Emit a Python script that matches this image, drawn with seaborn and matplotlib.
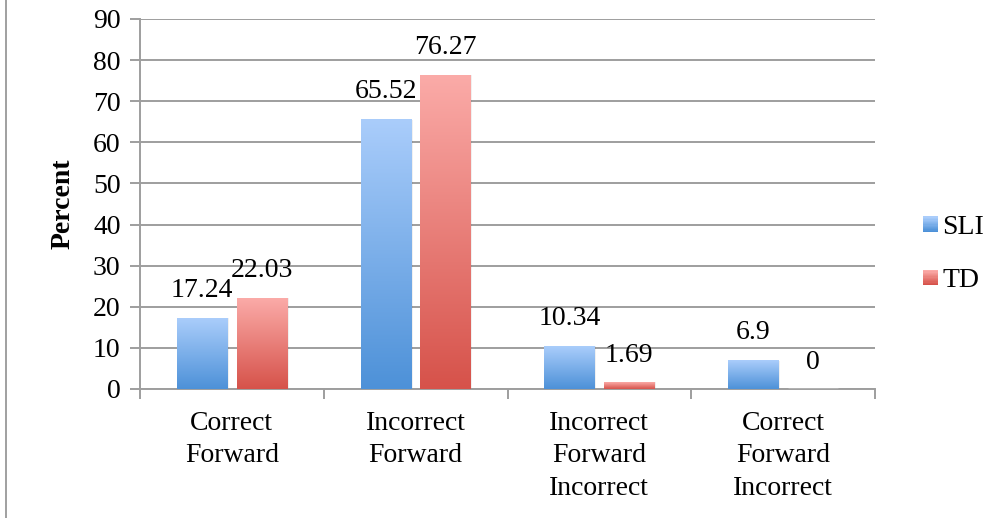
import numpy as np
import pandas as pd
import matplotlib
matplotlib.use("Agg")
import matplotlib.pyplot as plt
import seaborn as sns
from matplotlib.colors import LinearSegmentedColormap
from matplotlib.patches import Rectangle
from matplotlib.legend_handler import HandlerBase

categories = ["Correct\nForward", "Incorrect\nForward",
              "Incorrect\nForward\nIncorrect", "Correct\nForward\nIncorrect"]
groups = ["SLI", "TD"]
sli_values = [17.24, 65.52, 10.34, 6.9]
td_values = [22.03, 76.27, 1.69, 0]
value_labels = {"SLI": ["17.24", "65.52", "10.34", "6.9"],
                "TD": ["22.03", "76.27", "1.69", "0"]}
yticks = [0, 10, 20, 30, 40, 50, 60, 70, 80, 90]

# gradient end colours (top, bottom) for each group
grad = {"SLI": ("#aacdfb", "#4d91d8"), "TD": ("#fbaba8", "#d6524a")}

df = pd.DataFrame({
    "category": categories * 2,
    "group": ["SLI"] * 4 + ["TD"] * 4,
    "value": sli_values + td_values,
})

sns.set_theme(style="white")
plt.rcParams["font.family"] = ["Liberation Serif", "DejaVu Serif"]
plt.rcParams["text.color"] = "black"
plt.rcParams["xtick.color"] = "black"
plt.rcParams["ytick.color"] = "black"
plt.rcParams["axes.labelcolor"] = "black"
FS = 20

fig = plt.figure(figsize=(10.03, 5.18), dpi=100)
W, H = 1003, 518
ax = fig.add_axes([140 / W, 1 - 389 / H, 735 / W, 370 / H])

palette = {g: grad[g][1] for g in groups}
sns.barplot(data=df, x="category", y="value", hue="group", order=categories,
            hue_order=groups, palette=palette, width=0.65, gap=0.16,
            legend=False, ax=ax, zorder=3)

# vertical gradient fill for every bar
for g, cont in zip(groups, ax.containers):
    cmap = LinearSegmentedColormap.from_list(g, [grad[g][1], grad[g][0]])
    for bar, lab in zip(cont, value_labels[g]):
        x0, w, h = bar.get_x(), bar.get_width(), bar.get_height()
        if h > 0:
            bar.set_alpha(0)
            shadow = Rectangle((x0 + 0.01, 0), w, h, facecolor="#000000",
                               alpha=0.06, edgecolor="none", zorder=2)
            ax.add_patch(shadow)
            ax.imshow(np.linspace(0, 1, 256).reshape(-1, 1), cmap=cmap,
                      origin="lower", aspect="auto", extent=(x0, x0 + w, 0, h),
                      zorder=3, interpolation="bicubic")
        ax.annotate(lab, (x0 + w / 2, h), xytext=(0, 11 if h > 3 else 10),
                    textcoords="offset points", ha="center", va="bottom",
                    fontsize=FS, color="black", zorder=5)
ax.set_xlim(-0.5, 3.5)
ax.set_ylim(0, 90)

# axes styling
grid_c = "#9e9e9e"
ax.set_yticks(yticks)
ax.yaxis.grid(True, color=grid_c, linewidth=1.4, zorder=0)
ax.set_axisbelow(True)
for s in ["top", "right"]:
    ax.spines[s].set_visible(False)
for s in ["left", "bottom"]:
    ax.spines[s].set_color(grid_c)
    ax.spines[s].set_linewidth(1.4)
ax.tick_params(axis="y", which="major", direction="out", length=7, width=1.4,
               color=grid_c, labelcolor="black", labelsize=FS, pad=7, left=True)

ax.set_xticks([-0.5, 0.5, 1.5, 2.5, 3.5])
ax.set_xticklabels([])
ax.set_xticks(range(4), minor=True)
ax.set_xticklabels(categories, minor=True, fontsize=FS, linespacing=1.38)
ax.tick_params(axis="x", which="major", direction="out", length=7, width=1.4,
               color=grid_c, bottom=True)
ax.tick_params(axis="x", which="minor", length=0, pad=16, labelcolor="black")
ax.set_xlabel("")
ax.set_ylabel("Percent", fontsize=FS, fontweight="bold", color="black")
ax.yaxis.set_label_coords(-64 / 735, 0.5)


class GradientHandler(HandlerBase):
    def create_artists(self, legend, orig_handle, xdescent, ydescent,
                       width, height, fontsize, trans):
        top, bottom = orig_handle
        cmap = LinearSegmentedColormap.from_list("h", [bottom, top])
        n = 12
        side = width
        arts = []
        for i in range(n):
            arts.append(Rectangle((xdescent, -ydescent + (height - side) / 2 + side * i / n),
                                  side, side / n + 0.3, facecolor=cmap(i / (n - 1)),
                                  edgecolor="none", transform=trans))
        return arts


handles = [grad[g] for g in groups]
fig.legend(handles, groups, handler_map={tuple: GradientHandler()},
           loc="center left", bbox_to_anchor=(912 / W, 1 - 254 / H),
           frameon=False, fontsize=FS, handlelength=0.55, handleheight=0.7,
           handletextpad=0.15, labelspacing=1.0, borderaxespad=0)

# thin frame edge on the left of the figure
fig.add_artist(plt.Line2D([6 / W, 6 / W], [0, 1], transform=fig.transFigure,
                          color="#a0a0a0", linewidth=1.4))

fig.savefig("out.png", dpi=100)
